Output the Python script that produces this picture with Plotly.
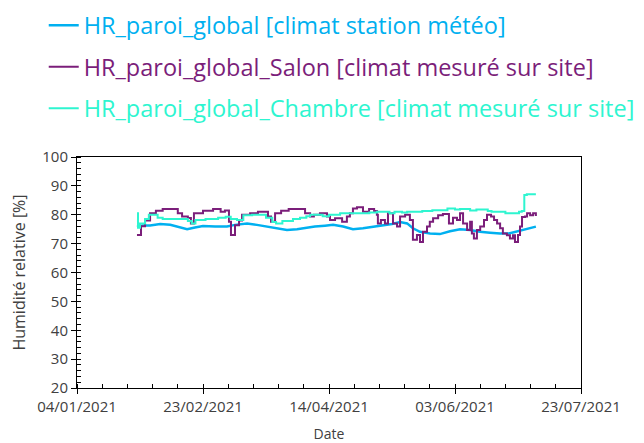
import pandas as pd
import plotly.graph_objects as go

base_date = "2021-01-04"

# Station météo (days after 04/01/2021, RH %)
station_days = [23.8, 26, 29, 33, 37, 41, 43.7, 46.8, 50, 54.8, 59.5, 62.7, 67.5, 71.4, 75.4,
                79.4, 83.3, 87.3, 90.5, 94.4, 98.4, 101.6, 105.6, 109.5, 113.5, 117.5, 121.4,
                125, 128.2, 131, 133.3, 136.1, 140.1, 144, 148, 152, 155.9, 159.9, 163.9,
                167.9, 171.8, 175.8, 178.6, 182.1]
station_hr = [75.8, 76.3, 76.3, 76.8, 76.5, 75.5, 75.0, 75.6, 76.1, 75.9, 75.9, 76.5, 77.0,
              76.5, 75.9, 75.2, 74.7, 75.0, 75.5, 75.9, 76.2, 76.5, 75.9, 75.0, 75.3, 75.8,
              76.2, 76.8, 77.5, 77.0, 75.3, 74.1, 73.5, 73.3, 74.3, 75.0, 74.7, 74.1, 73.8,
              73.5, 73.6, 74.4, 75.0, 75.9]

# Salon
salon_days = [23.8, 25.4, 27, 29, 31.3, 34, 40, 41.7, 44, 45.2, 46.4, 50, 54, 57, 58.7, 60.3,
              61.1, 62.7, 64.3, 65.5, 68.7, 71.8, 75.8, 77, 78.6, 81, 84, 90.5, 92.5, 94,
              96.4, 99.2, 100.4, 102.4, 105.2, 107.1, 108.3, 109.5, 111.1, 113.5, 115.9,
              117.9, 119, 119.4, 120.6, 122.2, 123.4, 125.4, 127, 128.2, 130.2, 132.1, 133.3,
              134.9, 136.1, 137.3, 138.9, 140, 141.3, 143.3, 145.2, 147.6, 149.2, 150.8, 152,
              153.2, 154.8, 156, 156.7, 157.5, 158.7, 160, 161.5, 162.7, 164.3, 165.5, 166.7,
              167.9, 169, 170.6, 171.8, 173, 173.8, 175, 175.8, 176.6, 177.8, 178.6, 179.8,
              181, 182.1]
salon_hr = [73, 76, 78, 80.5, 81.4, 82, 80.5, 79.4, 78.9, 77, 80.5, 81.4, 82, 81, 81.5, 77.6,
            73, 76.4, 78, 80, 80.5, 81, 79.4, 77.6, 80.5, 81.4, 82, 80.5, 79.4, 80, 80.5,
            79.4, 78.2, 78.8, 77.6, 79.4, 80.5, 82.2, 82.6, 81, 82, 81.3, 80, 77, 78.2, 77,
            80.5, 77, 75.9, 79.4, 80, 78.2, 71.3, 73, 70.6, 74.1, 75.9, 77.6, 78.8, 79.8,
            80.3, 77, 79, 78.2, 80.5, 77, 74.7, 77.6, 73.5, 71.8, 74.7, 75.9, 78.2, 80, 79.4,
            78.2, 77, 75.3, 73.5, 72.9, 71.8, 72.9, 70.6, 73, 75.9, 79.2, 79.4, 80.5, 79.8,
            80.5, 79.6]

# Chambre
chambre_days = [23.8, 24.2, 25, 27, 28.5, 32, 34, 44, 45.5, 47, 51, 56, 59, 61, 63.5, 66,
                69.5, 75, 77.5, 79, 81.5, 85.7, 88.5, 91, 92.5, 97.5, 100, 104.4, 111, 116,
                119, 124, 126, 129, 131, 137, 141, 147, 150, 152, 156, 158.5, 163, 164.5,
                170, 175.4, 176.5, 177.5, 178.5, 182.1]
chambre_hr = [80.5, 75.5, 77, 78.5, 80, 79, 78.5, 77.8, 77, 78.2, 78.5, 79, 79.3, 78.5, 78.2,
              79.8, 80, 79, 77.5, 77, 77.8, 78.5, 79, 79.5, 80, 79.5, 80, 80.5, 80.5, 80.8,
              81, 80.5, 81, 80.8, 81, 81.3, 81.6, 82.2, 81.8, 82, 81.5, 81.8, 81.3, 81, 80.5,
              81, 81.3, 86.8, 87.1, 87.1]

names = ["HR_paroi_global [climat station météo]",
         "HR_paroi_global_Salon [climat mesuré sur site]",
         "HR_paroi_global_Chambre [climat mesuré sur site]"]
colors = ["#00B0F0", "#7B1E7A", "#2EF5D0"]

x_ticks = ["2021-01-04", "2021-02-23", "2021-04-14", "2021-06-03", "2021-07-23"]
x_ticktext = ["04/01/2021", "23/02/2021", "14/04/2021", "03/06/2021", "23/07/2021"]


def to_dates(days):
    return pd.Timestamp(base_date) + pd.to_timedelta(days, unit="D")


def colored(name, color):
    return f"<span style='color:{color}'>{name}</span>"


fig = go.Figure()
fig.add_trace(go.Scatter(x=to_dates(station_days), y=station_hr, name=colored(names[0], colors[0]),
                         mode="lines", line=dict(color=colors[0], width=2.5), legendgroup="a"))
fig.add_trace(go.Scatter(x=to_dates(salon_days), y=salon_hr, name=colored(names[1], colors[1]),
                         mode="lines", line=dict(color=colors[1], width=2, shape="hv"),
                         legendgroup="b"))
fig.add_trace(go.Scatter(x=to_dates(chambre_days), y=chambre_hr,
                         name=colored(names[2], colors[2]), mode="lines",
                         line=dict(color=colors[2], width=2, shape="hv"), legendgroup="c"))

font_family = "Open Sans, Liberation Sans, sans-serif"

# page body has an 8px margin: figure is 636x435 and offset by (8, 8)
fig.update_layout(
    width=636, height=435,
    margin=dict(l=69, r=63, t=149, b=55, autoexpand=False),
    paper_bgcolor="white", plot_bgcolor="white",
    font=dict(family=font_family, color="#404040"),
    showlegend=True,
    legend=dict(x=-0.066, y=1.665, xanchor="left", yanchor="top",
                font=dict(size=23.5, family=font_family), tracegroupgap=8,
                bgcolor="rgba(0,0,0,0)"),
    xaxis=dict(
        type="date",
        range=[x_ticks[0], x_ticks[-1]],
        tickmode="array", tickvals=x_ticks, ticktext=x_ticktext,
        ticks="outside", ticklen=5, tickcolor="black",
        minor=dict(dtick=10 * 86400000, tick0=x_ticks[0], ticks="inside", ticklen=4,
                   tickcolor="black"),
        showline=True, linecolor="black", linewidth=1, mirror=True,
        showgrid=False, zeroline=False,
        tickfont=dict(size=15, color="#404040"),
        title=dict(text="Date", font=dict(size=14, color="#404040"), standoff=20),
    ),
    yaxis=dict(
        range=[20, 100], tickmode="linear", tick0=20, dtick=10,
        ticks="outside", ticklen=5, tickcolor="black",
        minor=dict(dtick=2, ticks="inside", ticklen=4, tickcolor="black"),
        showline=True, linecolor="black", linewidth=1, mirror=True,
        showgrid=False, zeroline=False,
        tickfont=dict(size=15, color="#404040"),
        title=dict(text="Humidité relative [%]", font=dict(size=16, color="#404040"),
                   standoff=14),
    ),
)

fig.write_html("out.html")
